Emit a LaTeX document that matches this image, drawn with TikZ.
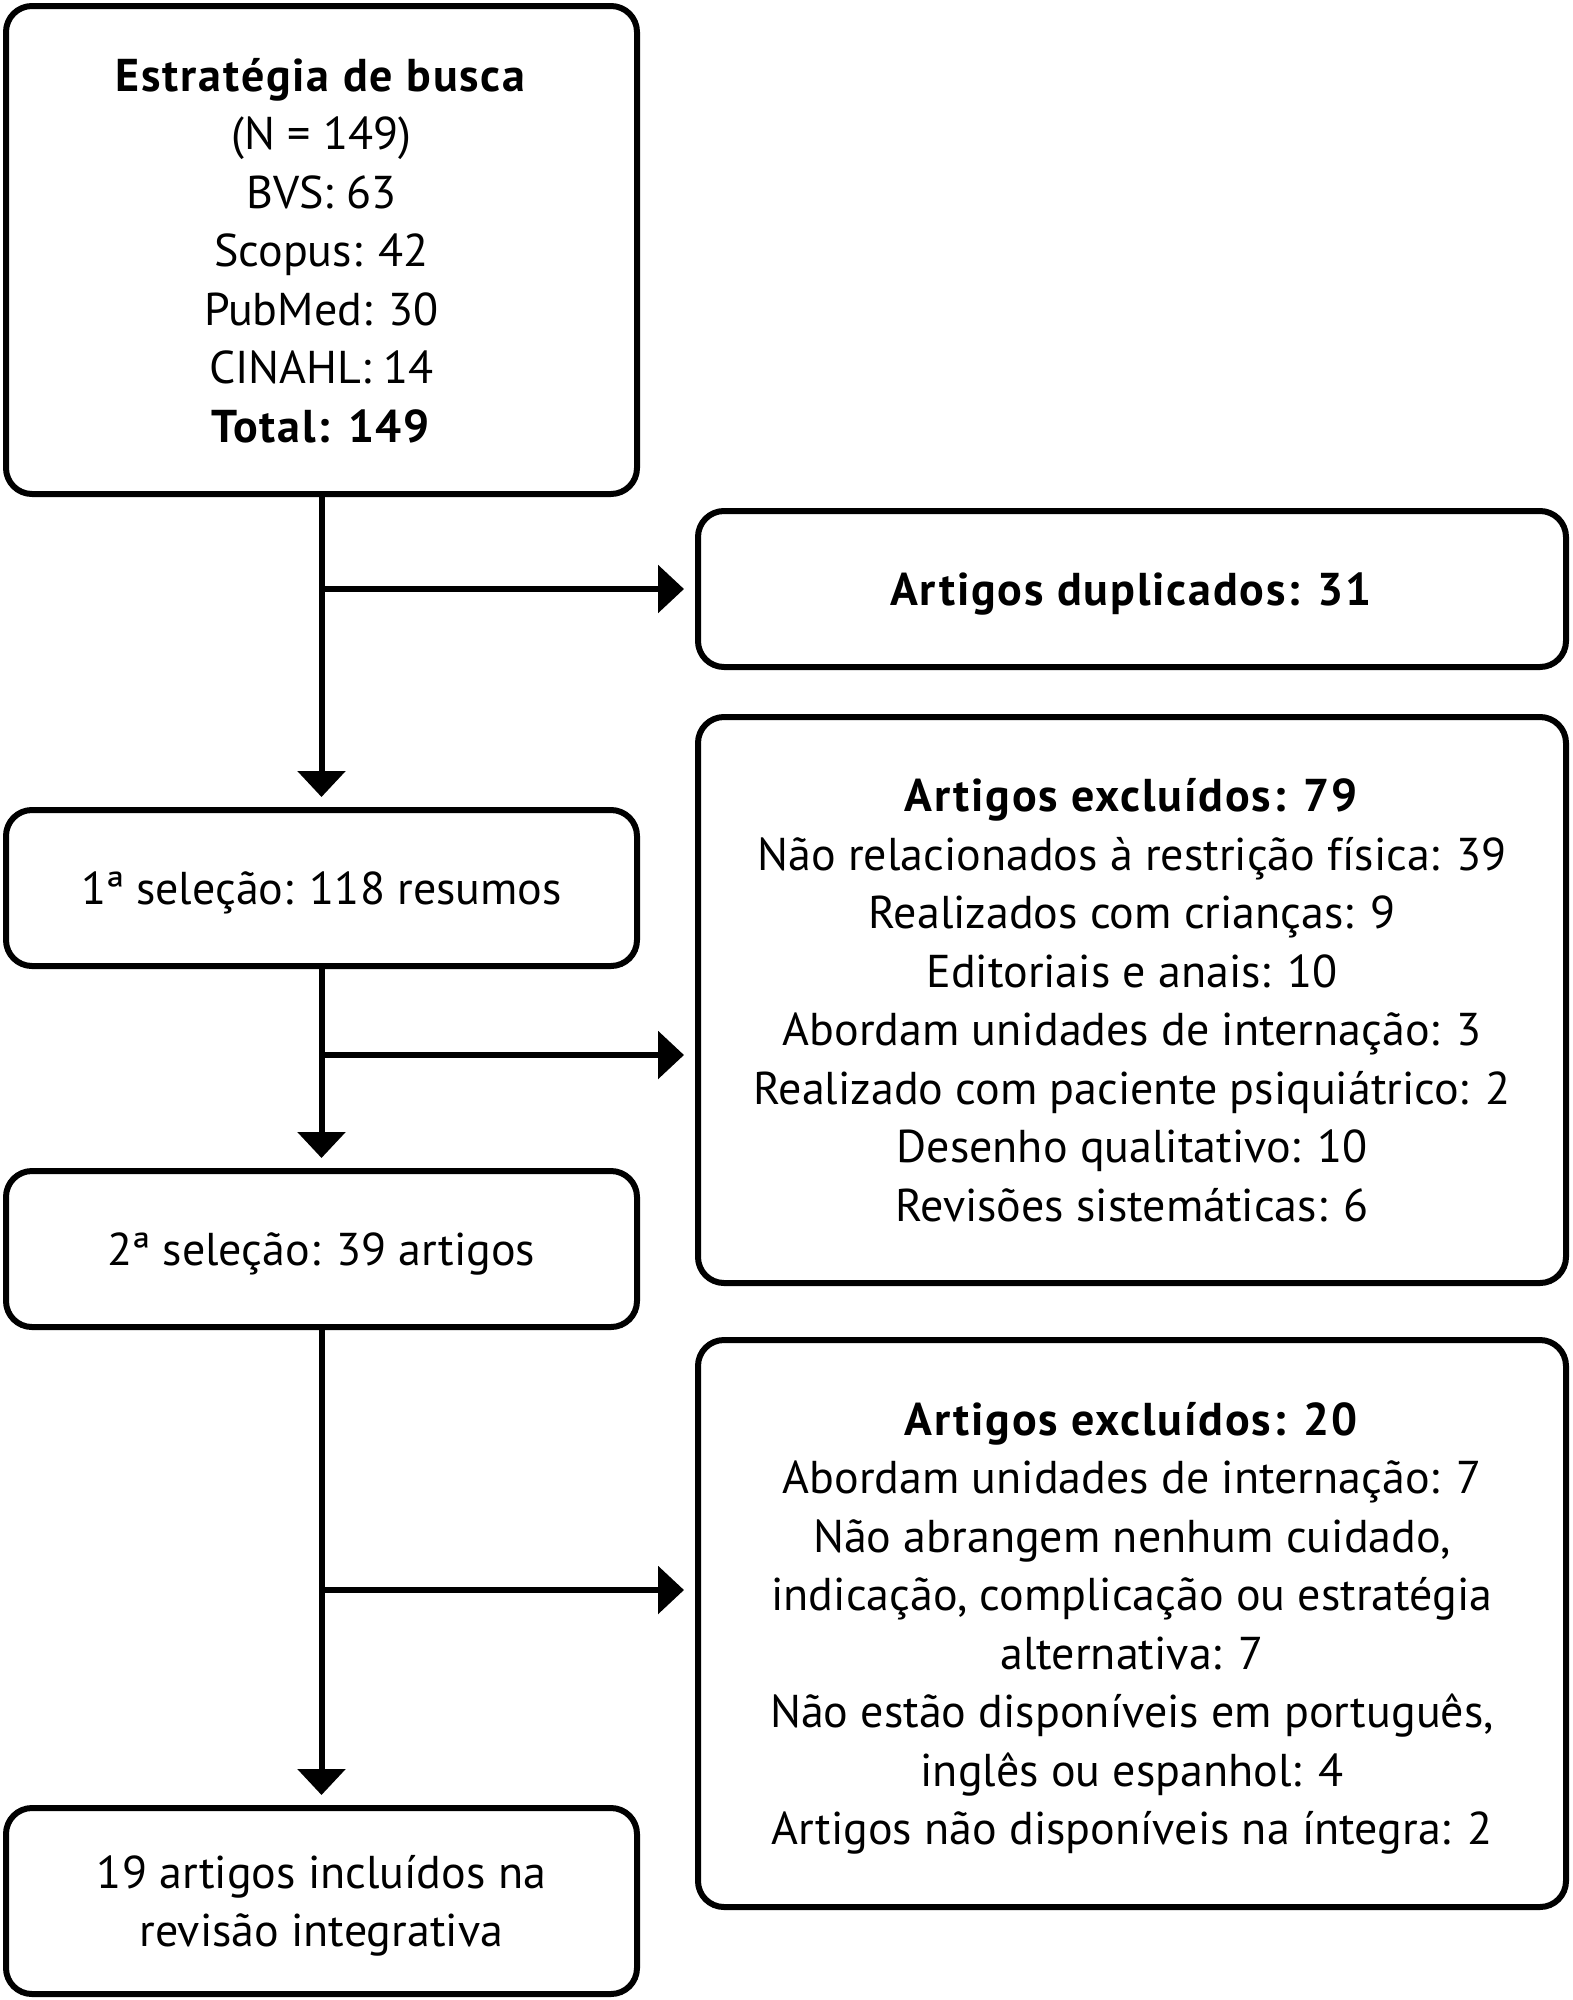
\documentclass[tikz,border=0pt]{standalone}
\usepackage{fontspec}
\setmainfont{PT Sans}[BoldFeatures={LetterSpace=4}]
\usetikzlibrary{arrows.meta}
\begin{document}
\begin{tikzpicture}[x=1pt,y=-1pt,
  box/.style={draw=black,line width=6pt,rounded corners=26pt,inner sep=0pt,align=center,
    text depth=0pt,font=\fontsize{46}{58.5}\selectfont},
  arr/.style={line width=6pt,-{Triangle[width=47pt,length=26pt]}},
  ln/.style={line width=6pt}]
\useasboundingbox (0,0) rectangle (1572,2000);
\node[box,minimum width=631pt,minimum height=488pt] (b1) at (321.5,250)
  {\textbf{Estratégia de busca}\\(N = 149)\\BVS: 63\\Scopus: 42\\PubMed: 30\\CINAHL: 14\\\textbf{Total: 149}};
\node[box,minimum width=868pt,minimum height=156pt] (dup) at (1132,589)
  {\textbf{Artigos duplicados: 31}};
\node[box,minimum width=631pt,minimum height=156pt] (s1) at (321.5,888)
  {1ª seleção: 118 resumos};
\node[box,minimum width=868pt,minimum height=566pt] (ex1) at (1132,1000)
  {\textbf{Artigos excluídos: 79}\\Não relacionados à restrição física: 39\\Realizados com crianças: 9\\Editoriais e anais: 10\\Abordam unidades de internação: 3\\Realizado com paciente psiquiátrico: 2\\Desenho qualitativo: 10\\Revisões sistemáticas: 6};
\node[box,minimum width=631pt,minimum height=156pt] (s2) at (321.5,1249)
  {2ª seleção: 39 artigos};
\node[box,minimum width=868pt,minimum height=567pt] (ex2) at (1132,1623.5)
  {\textbf{Artigos excluídos: 20}\\Abordam unidades de internação: 7\\Não abrangem nenhum cuidado,\\indicação, complicação ou estratégia\\alternativa: 7\\Não estão disponíveis em português,\\inglês ou espanhol: 4\\Artigos não disponíveis na íntegra: 2};
\node[box,minimum width=631pt,minimum height=186pt] (fin) at (321.5,1901)
  {19 artigos incluídos na\\revisão integrativa};
\coordinate (j1) at (b1.south |- dup.west);
\coordinate (j2) at (323,1055);
\coordinate (j3) at (323,1590);
\draw[arr,shorten >=10pt] (b1.south) -- (s1.north);
\draw[arr,shorten >=10pt] (s1.south) -- (s2.north);
\draw[arr,shorten >=10pt] (s2.south) -- (fin.north);
\draw[arr,shorten >=11pt] (j1) -- (dup.west);
\draw[arr,shorten >=11pt] (j2) -- (ex1.west |- j2);
\draw[arr,shorten >=11pt] (j3) -- (ex2.west |- j3);
\end{tikzpicture}
\end{document}
